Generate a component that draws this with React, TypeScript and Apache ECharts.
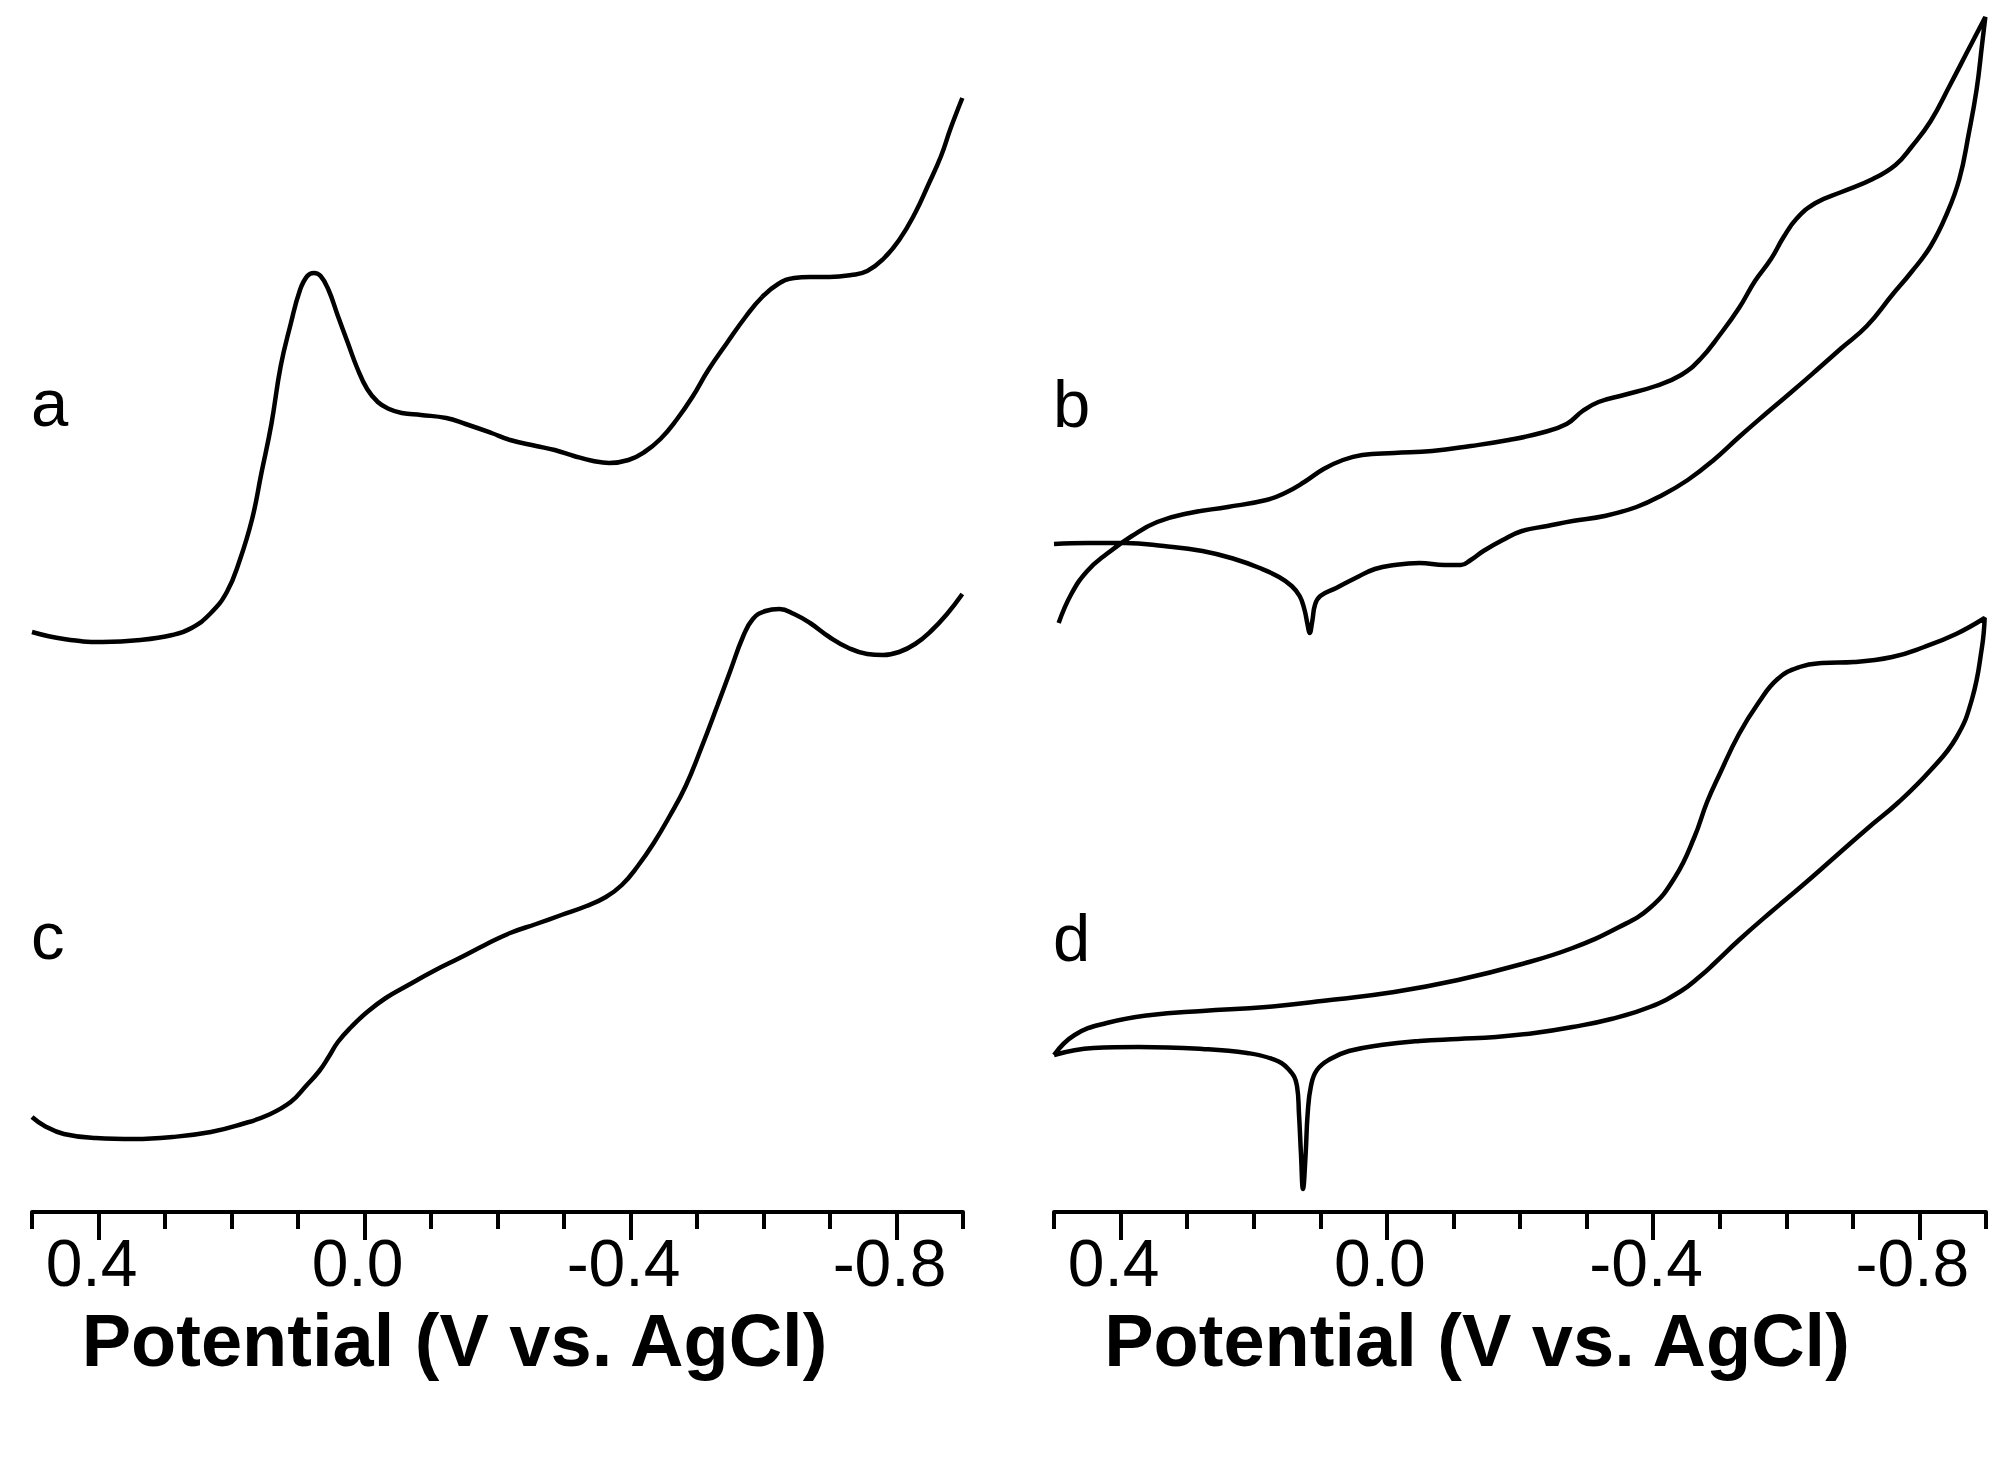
import React, { useEffect, useRef } from "react";
import * as echarts from "echarts";

// Potential (V vs. AgCl) tick labels
const majorTicks: number[] = [0.4, 0.0, -0.4, -0.8];

// Curve a: [potential V, current (arb. units)]
const curveA: number[][] = [
  [0.5, 580], [0.452, 573], [0.394, 570], [0.337, 572], [0.289, 577], [0.26, 584],
  [0.231, 599], [0.207, 620], [0.188, 651], [0.169, 693], [0.155, 739], [0.14, 788],
  [0.126, 846], [0.111, 888], [0.097, 922], [0.086, 936], [0.076, 939], [0.066, 936],
  [0.054, 922], [0.04, 896], [0.025, 869], [0.011, 844], [-0.004, 823], [-0.02, 810],
  [-0.037, 803], [-0.056, 799], [-0.085, 797], [-0.123, 794], [-0.152, 788], [-0.191, 779],
  [-0.219, 772], [-0.258, 766], [-0.286, 762], [-0.315, 756], [-0.344, 751], [-0.368, 749],
  [-0.397, 752], [-0.421, 760], [-0.445, 773], [-0.469, 792], [-0.493, 815], [-0.517, 842],
  [-0.545, 869], [-0.574, 896], [-0.598, 915], [-0.622, 928], [-0.646, 934], [-0.67, 935],
  [-0.699, 935], [-0.732, 937], [-0.756, 941], [-0.78, 953], [-0.804, 972], [-0.828, 999],
  [-0.847, 1026], [-0.867, 1056], [-0.881, 1083], [-0.899, 1114],
];

// Curve c
const curveC: number[][] = [
  [0.5, 95], [0.481, 86], [0.452, 78], [0.404, 74], [0.346, 73], [0.289, 75], [0.231, 80],
  [0.184, 88], [0.145, 97], [0.111, 110], [0.088, 126], [0.068, 141], [0.054, 155],
  [0.04, 170], [0.02, 185], [-0.004, 200], [-0.032, 214], [-0.066, 227], [-0.104, 241],
  [-0.143, 254], [-0.181, 267], [-0.219, 279], [-0.258, 288], [-0.296, 297], [-0.334, 306],
  [-0.363, 315], [-0.387, 327], [-0.411, 346], [-0.435, 369], [-0.459, 396], [-0.483, 426],
  [-0.507, 465], [-0.531, 507], [-0.55, 541], [-0.569, 575], [-0.584, 593], [-0.603, 601],
  [-0.624, 603], [-0.646, 598], [-0.67, 589], [-0.699, 575], [-0.728, 564], [-0.756, 558],
  [-0.78, 557], [-0.804, 560], [-0.828, 568], [-0.852, 581], [-0.876, 598], [-0.899, 618],
];

// Curve b (cyclic voltammogram: forward scan then return scan)
const curveB: number[][] = [
  [0.5, 668], [0.45, 669], [0.393, 669], [0.335, 666], [0.277, 661], [0.229, 653],
  [0.191, 644], [0.162, 635], [0.143, 626], [0.131, 616], [0.124, 603], [0.119, 587],
  [0.116, 579], [0.112, 591], [0.108, 607], [0.1, 616], [0.076, 624], [0.047, 634],
  [0.018, 643], [-0.011, 647], [-0.049, 649], [-0.087, 647], [-0.111, 647], [-0.126, 652],
  [-0.145, 661], [-0.174, 672], [-0.203, 681], [-0.241, 686], [-0.279, 691], [-0.327, 696],
  [-0.375, 705], [-0.414, 717], [-0.452, 732], [-0.491, 752], [-0.529, 775], [-0.567, 797],
  [-0.606, 819], [-0.644, 841], [-0.683, 864], [-0.721, 886], [-0.759, 917], [-0.788, 940],
  [-0.817, 966], [-0.841, 998], [-0.86, 1033], [-0.874, 1078], [-0.886, 1123], [-0.894, 1167],
  [-0.899, 1195],
  [-0.874, 1163], [-0.846, 1127], [-0.817, 1091], [-0.788, 1065], [-0.764, 1047],
  [-0.73, 1033], [-0.683, 1020], [-0.644, 1009], [-0.615, 993], [-0.596, 975], [-0.577, 953],
  [-0.553, 931], [-0.529, 904], [-0.5, 877], [-0.471, 853], [-0.442, 837], [-0.404, 826],
  [-0.356, 817], [-0.318, 810], [-0.294, 801], [-0.27, 788], [-0.231, 779], [-0.183, 772],
  [-0.126, 766], [-0.068, 761], [-0.011, 759], [0.037, 757], [0.066, 752], [0.095, 743],
  [0.124, 730], [0.153, 719], [0.181, 712], [0.239, 705], [0.296, 699], [0.345, 690],
  [0.383, 676], [0.421, 658], [0.45, 641], [0.474, 618], [0.493, 589],
];

// Curve d (cyclic voltammogram loop)
const curveD: number[][] = [
  [0.5, 157], [0.469, 177], [0.421, 189], [0.354, 197], [0.277, 201], [0.181, 205],
  [0.085, 212], [-0.011, 220], [-0.107, 232], [-0.203, 248], [-0.279, 264], [-0.346, 284],
  [-0.395, 304], [-0.433, 335], [-0.462, 375], [-0.481, 410], [-0.5, 438], [-0.529, 478],
  [-0.558, 509], [-0.587, 533], [-0.62, 545], [-0.654, 549], [-0.702, 550], [-0.759, 555],
  [-0.807, 565], [-0.855, 578], [-0.898, 594],
  [-0.894, 565], [-0.879, 513], [-0.855, 474], [-0.817, 442], [-0.769, 410], [-0.721, 383],
  [-0.673, 355], [-0.625, 327], [-0.577, 300], [-0.529, 272], [-0.491, 248], [-0.471, 236],
  [-0.442, 221], [-0.395, 205], [-0.337, 193], [-0.279, 185], [-0.222, 179], [-0.164, 175],
  [-0.107, 173], [-0.049, 171], [0.009, 167], [0.057, 161], [0.085, 153], [0.105, 142],
  [0.114, 126], [0.119, 98], [0.122, 58], [0.126, 23], [0.129, 58], [0.132, 98],
  [0.135, 126], [0.148, 143], [0.172, 153], [0.21, 159], [0.277, 163], [0.373, 165],
  [0.441, 164], [0.5, 157],
];

const panelLabels: string[] = ["a", "b", "c", "d"];
const axisTitle = "Potential (V vs. AgCl)";

const FONT = "'Liberation Sans', Arial, Helvetica, sans-serif";

function baseAxis(gi: number) {
  return {
    type: "value",
    gridIndex: gi,
    min: -0.9,
    max: 0.5,
    interval: 0.1,
    inverse: true,
    position: "bottom",
    offset: 0,
    axisLine: { show: true, onZero: false, lineStyle: { color: "#000", width: 4 } },
    axisTick: { show: true, length: 17, lineStyle: { color: "#000", width: 4 } },
    axisLabel: { show: false },
    splitLine: { show: false },
  };
}

function majorAxis(gi: number) {
  return {
    type: "value",
    gridIndex: gi,
    min: -0.9,
    max: 0.5,
    interval: 0.1,
    inverse: true,
    position: "bottom",
    offset: 0,
    axisLine: { show: false, onZero: false },
    axisTick: {
      show: true,
      length: 28,
      customValues: majorTicks,
      lineStyle: { color: "#000", width: 4 },
    },
    axisLabel: {
      show: true,
      customValues: majorTicks,
      formatter: (v: number) => (Math.abs(v) < 1e-9 ? "0.0" : v.toFixed(1)),
      margin: 18,
      color: "#000",
      fontSize: 66,
      fontFamily: FONT,
      padding: [0, 14, 0, 0],
    },
    splitLine: { show: false },
    name: axisTitle,
    nameLocation: "middle",
    nameGap: 91,
    nameTextStyle: {
      color: "#000",
      fontSize: 74,
      fontWeight: "bold",
      fontFamily: FONT,
      padding: [0, 86, 0, 0],
    },
  };
}

function lineSeries(name: string, data: number[][], xi: number, yi: number) {
  return {
    type: "line",
    name,
    xAxisIndex: xi,
    yAxisIndex: yi,
    data,
    showSymbol: false,
    symbol: "none",
    smooth: 0.45,
    clip: false,
    lineStyle: { color: "#000", width: 4.5 },
  };
}

export default function App() {
  const ref = useRef<HTMLDivElement>(null);

  useEffect(() => {
    if (!ref.current) return;
    const chart = echarts.init(ref.current, undefined, { renderer: "svg" });
    const labelPos = [
      { x: 31, y: 402 },
      { x: 1053, y: 403 },
      { x: 31, y: 935 },
      { x: 1053, y: 937 },
    ];
    chart.setOption({
      animation: false,
      backgroundColor: "#fff",
      grid: [
        { left: 32, width: 931, top: 0, bottom: 246, containLabel: false },
        { left: 1054, width: 932, top: 0, bottom: 246, containLabel: false },
      ],
      xAxis: [baseAxis(0), majorAxis(0), baseAxis(1), majorAxis(1)],
      yAxis: [
        { type: "value", gridIndex: 0, min: 0, max: 1212, show: false, splitLine: { show: false } },
        { type: "value", gridIndex: 1, min: 0, max: 1212, show: false, splitLine: { show: false } },
      ],
      series: [
        lineSeries("a", curveA, 0, 0),
        lineSeries("c", curveC, 0, 0),
        lineSeries("b", curveB, 2, 1),
        lineSeries("d", curveD, 2, 1),
      ],
      graphic: panelLabels.map((t, i) => ({
        type: "text",
        x: labelPos[i].x,
        y: labelPos[i].y,
        style: {
          text: t,
          fill: "#000",
          fontSize: 67,
          fontFamily: FONT,
          align: "left",
          verticalAlign: "middle",
        },
      })),
    });
    return () => chart.dispose();
  }, []);

  return (
    <div
      ref={ref}
      style={{ position: "fixed", left: 0, top: 0, width: 2012, height: 1458, background: "#fff" }}
    />
  );
}
